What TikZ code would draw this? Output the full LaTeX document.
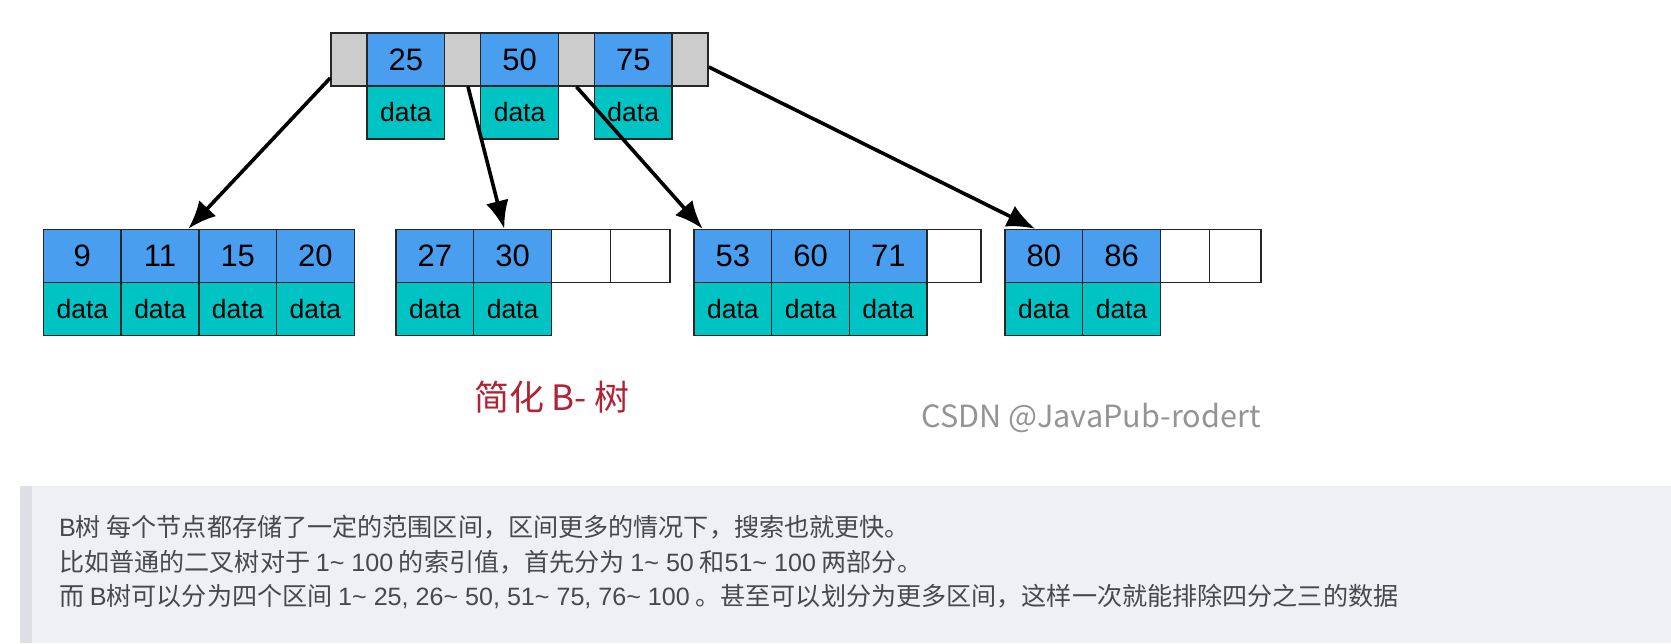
\documentclass[tikz,border=0pt]{standalone}
\usepackage{fontspec}
\setmainfont{Liberation Sans}
\newfontfamily\cjk{Noto Sans CJK SC}
\newfontfamily\lat{Liberation Sans}
\usetikzlibrary{arrows.meta}
\definecolor{keyblue}{RGB}{74,158,240}
\definecolor{datateal}{RGB}{0,196,196}
\definecolor{ptrgray}{RGB}{204,204,204}
\definecolor{capred}{RGB}{178,34,52}
\definecolor{notebg}{RGB}{238,240,244}
\definecolor{notebar}{RGB}{221,223,228}
\definecolor{notetext}{RGB}{72,72,80}
\newcommand{\tl}{\textasciitilde{}}

\begin{document}
\begin{tikzpicture}[x=1pt,y=-1pt,
  cell/.style={draw=black!85,line width=1.5pt,inner sep=0pt,minimum height=53pt},
  keybox/.style={cell,fill=keyblue,minimum width=77.7pt,font=\fontsize{31}{31}\selectfont},
  databox/.style={cell,fill=datateal,minimum width=77.7pt,font=\fontsize{26.5}{26.5}\selectfont},
  ptrbox/.style={cell,fill=ptrgray,minimum width=36pt},
  emptybox/.style={cell,fill=white},
  link/.style={-{Latex[length=28pt,width=23pt]},line width=3.6pt},
  note/.style={anchor=base west,inner sep=0pt,text=notetext,font=\cjk\fontsize{25.1}{25.1}\selectfont}]
      \useasboundingbox (0,0) rectangle (1671,643);

      % root
      \draw (349,59.5) node [ptrbox] (p0) {};
      \draw (405.85,59.5) node [keybox] (k25) {25};
      \draw (462.7,59.5) node [ptrbox] (p1) {};
      \draw (519.55,59.5) node [keybox] (k50) {50};
      \draw (576.4,59.5) node [ptrbox] (p2) {};
      \draw (633.25,59.5) node [keybox] (k75) {75};
      \draw (690.1,59.5) node [ptrbox] (p3) {};
      \draw (405.85,112.5) node [databox] (d25) {data};
      \draw (519.55,112.5) node [databox] (d50) {data};
      \draw (633.25,112.5) node [databox] (d75) {data};

      % leaves
      \draw (82.35,256) node [keybox] (k9) {9};
      \draw (160.05,256) node [keybox] (k11) {11};
      \draw (237.75,256) node [keybox] (k15) {15};
      \draw (315.45,256) node [keybox] (k20) {20};
      \draw (82.35,309) node [databox] (d9) {data};
      \draw (160.05,309) node [databox] (d11) {data};
      \draw (237.75,309) node [databox] (d15) {data};
      \draw (315.45,309) node [databox] (d20) {data};

      \draw (434.85,256) node [keybox] (k27) {27};
      \draw (512.55,256) node [keybox] (k30) {30};
      \draw (581.05,256) node [emptybox,minimum width=59.3pt] (e1) {};
      \draw (640.35,256) node [emptybox,minimum width=59.3pt] (e2) {};
      \draw (434.85,309) node [databox] (d27) {data};
      \draw (512.55,309) node [databox] (d30) {data};

      \draw (732.85,256) node [keybox] (k53) {53};
      \draw (810.55,256) node [keybox] (k60) {60};
      \draw (888.25,256) node [keybox] (k71) {71};
      \draw (954.05,256) node [emptybox,minimum width=53.9pt] (e3) {};
      \draw (732.85,309) node [databox] (d53) {data};
      \draw (810.55,309) node [databox] (d60) {data};
      \draw (888.25,309) node [databox] (d71) {data};

      \draw (1043.85,256) node [keybox] (k80) {80};
      \draw (1121.55,256) node [keybox] (k86) {86};
      \draw (1184.95,256) node [emptybox,minimum width=49.1pt] (e4) {};
      \draw (1235.25,256) node [emptybox,minimum width=51.5pt] (e5) {};
      \draw (1043.85,309) node [databox] (d80) {data};
      \draw (1121.55,309) node [databox] (d86) {data};

      \draw [link] ([yshift=-18.5pt]p0.west) -- ([xshift=28.3pt]k11.north);
      \draw [link] ([xshift=5.3pt]p1.south) -- ([xshift=-8.3pt]k30.north);
      \draw [link] (p2.south) -- ([xshift=9.3pt]k53.north west);
      \draw [link] ([yshift=-7.5pt]p3.east) -- ([xshift=-8.8pt]k80.north);

      \draw (552,397) node [text=capred,font=\cjk\fontsize{35}{35}\selectfont] (title) {简化 B- 树};
      \draw (1091,418) node [text=black!42,font=\cjk\fontsize{30.6}{30.6}\selectfont] (mark) {CSDN @JavaPub-rodert};

      % note box
      \fill [notebg] (20,486) rectangle (1671,643);
      \fill [notebar] (20,486) rectangle (32,643);
      \node [note] (line1) at (59,536) {{\lat B}树 每个节点都存储了一定的范围区间，区间更多的情况下，搜索也就更快。};
      \node [note] (line2) at (59,571) {比如普通的二叉树对于 {\lat 1\tl\ 100} 的索引值，首先分为 {\lat 1\tl\ 50} 和{\lat 51\tl\ 100} 两部分。};
      \node [note] (line3) at (59,605) {而 {\lat B}树可以分为四个区间 {\lat 1\tl\ 25, 26\tl\ 50, 51\tl\ 75, 76\tl\ 100} 。甚至可以划分为更多区间，这样一次就能排除四分之三的数据};
    \end{tikzpicture}
\end{document}
